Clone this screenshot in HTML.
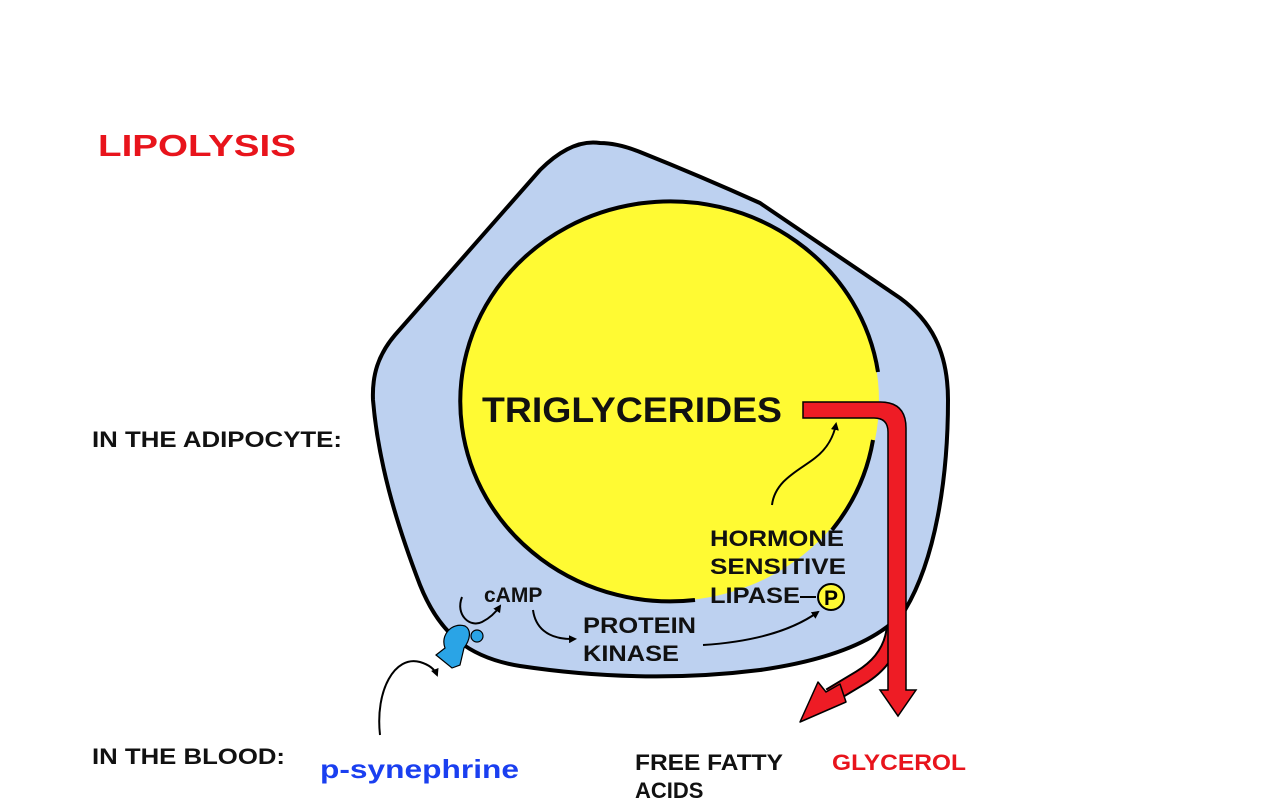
<!DOCTYPE html>
<html><head><meta charset="utf-8"><style>
html,body{margin:0;padding:0;background:#fff;}
svg{display:block;}
text{font-family:"Liberation Sans",Arial,sans-serif;font-weight:bold;}
</style></head><body>
<svg width="1280" height="812" viewBox="0 0 1280 812" xmlns="http://www.w3.org/2000/svg">
<defs>
<marker id="ah" markerWidth="8" markerHeight="8" refX="6" refY="4" orient="auto" markerUnits="userSpaceOnUse"><path d="M0,0 L8,4 L0,8 z" fill="#000"/></marker>
</defs>
<!-- cell -->
<path d="M600,143 C580,140 560,150 540,170 L395,335 C378,355 372,375 373,400 C378,460 395,520 420,585 C440,635 470,658 520,666 C600,678 680,680 760,670 C830,660 880,640 905,610 C935,560 948,480 948,400 C948,350 930,320 900,298 L760,203 C720,185 680,168 640,152 C625,146 612,143 600,143 Z" fill="#bdd1f0" stroke="#000" stroke-width="4"/>
<!-- droplet -->
<ellipse cx="669" cy="401" rx="210" ry="200" fill="#fffa33"/>
<path d="M878,372 A210,200 0 1 0 695,600" fill="none" stroke="#000" stroke-width="4"/>
<path d="M873,440 A210,200 0 0 1 832,530" fill="none" stroke="#000" stroke-width="4"/>
<!-- red arrow: branch -->
<path d="M894,630 Q890,660 860,678 L830,696" fill="none" stroke="#000" stroke-width="17"/>
<path d="M894,630 Q890,660 860,678 L830,696" fill="none" stroke="#ee1c25" stroke-width="13"/>
<path d="M800,722 L818,682 L826,692 L840,684 L846,702 Z" fill="#ee1c25" stroke="#000" stroke-width="1.5" stroke-linejoin="round"/>
<path d="M803,402 L880,402 Q906,402 906,428 L906,690 L916,690 L898,716 L880,690 L888,690 L888,432 Q888,418 874,418 L803,418 Z" fill="#ee1c25" stroke="#000" stroke-width="1.5"/>
<!-- receptor -->
<path d="M445,648 C440,635 452,622 465,626 C472,630 470,640 464,648 L460,665 L452,668 L436,655 Z" fill="#2aa4e6" stroke="#000" stroke-width="1.2"/>
<circle cx="477" cy="636" r="6" fill="#2aa4e6" stroke="#000" stroke-width="1.2"/>
<!-- small arrows -->
<path d="M380,735 C375,690 395,655 420,662 C430,665 435,670 437,675" fill="none" stroke="#000" stroke-width="2" marker-end="url(#ah)"/>
<path d="M462,597 C455,615 470,628 482,622 C490,618 496,612 500,606" fill="none" stroke="#000" stroke-width="2" marker-end="url(#ah)"/>
<path d="M533,610 C535,625 545,640 575,639" fill="none" stroke="#000" stroke-width="2" marker-end="url(#ah)"/>
<path d="M703,645 C750,642 790,632 818,612" fill="none" stroke="#000" stroke-width="2" marker-end="url(#ah)"/>
<path d="M772,505 C775,480 800,470 815,458 C828,448 834,435 836,424" fill="none" stroke="#000" stroke-width="2" marker-end="url(#ah)"/>
<!-- P -->
<line x1="800" y1="597" x2="816" y2="597" stroke="#000" stroke-width="2"/>
<circle cx="831" cy="597" r="13" fill="#fffa33" stroke="#000" stroke-width="2"/>
<text x="831" y="605" font-size="21" text-anchor="middle">P</text>
<!-- labels -->
<text x="98" y="156" font-size="31" fill="#e8141c" textLength="198" lengthAdjust="spacingAndGlyphs">LIPOLYSIS</text>
<text x="92" y="447" font-size="22" fill="#111" textLength="250" lengthAdjust="spacingAndGlyphs">IN THE ADIPOCYTE:</text>
<text x="92" y="764" font-size="22" fill="#111" textLength="193" lengthAdjust="spacingAndGlyphs">IN THE BLOOD:</text>
<text x="320" y="778" font-size="26" fill="#1a3ff0" textLength="199" lengthAdjust="spacingAndGlyphs">p-synephrine</text>
<text x="635" y="770" font-size="22" fill="#111" textLength="148" lengthAdjust="spacingAndGlyphs">FREE FATTY</text>
<text x="635" y="798" font-size="22" fill="#111">ACIDS</text>
<text x="832" y="770" font-size="22" fill="#e8141c" textLength="134" lengthAdjust="spacingAndGlyphs">GLYCEROL</text>
<text x="482" y="422" font-size="35" fill="#111" textLength="300" lengthAdjust="spacingAndGlyphs">TRIGLYCERIDES</text>
<text x="710" y="546" font-size="22" fill="#111" textLength="134" lengthAdjust="spacingAndGlyphs">HORMONE</text>
<text x="710" y="574" font-size="22" fill="#111" textLength="136" lengthAdjust="spacingAndGlyphs">SENSITIVE</text>
<text x="710" y="603" font-size="22" fill="#111" textLength="90" lengthAdjust="spacingAndGlyphs">LIPASE</text>
<text x="484" y="602" font-size="21" fill="#111">cAMP</text>
<text x="583" y="633" font-size="22" fill="#111" textLength="113" lengthAdjust="spacingAndGlyphs">PROTEIN</text>
<text x="583" y="661" font-size="22" fill="#111" textLength="96" lengthAdjust="spacingAndGlyphs">KINASE</text>
</svg>
</body></html>
